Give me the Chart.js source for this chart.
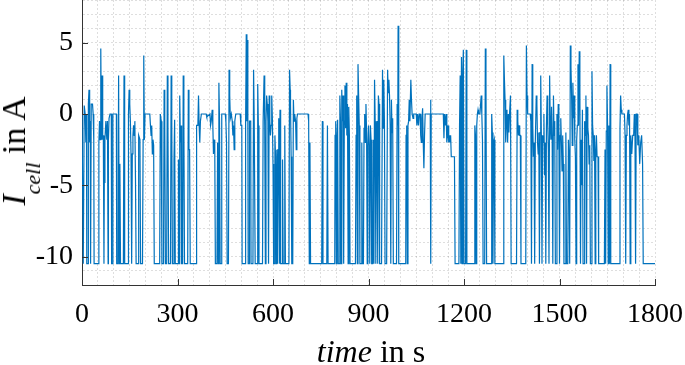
<!DOCTYPE html>
<html>
<head>
<meta charset="utf-8">
<script src="https://cdn.jsdelivr.net/npm/chart.js@4.4.0/dist/chart.umd.min.js"></script>
<style>
html, body { margin: 0; padding: 0; background: #fff; }
#wrap { position: relative; width: 685px; height: 365px; overflow: hidden; }
#wrap canvas { position: absolute; left: 0; top: 0; }
.ttl { position: absolute; font-family: "Liberation Serif", "Times New Roman", serif; font-size: 32px; line-height: 32px; height: 32px; color: #000; white-space: nowrap; }
#xTitle { left: 371px; top: 335px; transform: translateX(-50%); }
#yTitle { left: 14px; top: 151px; font-size: 34px; line-height: 34px; height: 34px; transform: translate(-50%, -50%) rotate(-90deg); }
#yTitle sub { font-size: 22px; vertical-align: -15px; line-height: 0; }
</style>
</head>
<body>
<div id="wrap">
  <canvas id="myChart" width="685" height="365"></canvas>
  <div class="ttl" id="xTitle"><i>time</i> in s</div>
  <div class="ttl" id="yTitle"><i>I</i><sub><i>cell</i></sub> in A</div>
</div>
<script>
// time stamps in s (one vertex per change)
const timeS = [
  // 0 - 300
  0,3,4,6,7,10,12,14,15,19,
  20,22,24,26,27,29,33,35,37,38,
  52,53,55,57,59,61,63,65,67,69,
  70,72,75,78,80,82,83,85,88,92,
  93,96,97,108,109,113,115,117,119,121,
  130,132,134,145,146,148,150,152,154,156,
  158,160,162,164,166,168,170,176,177,179,
  182,184,190,192,194,196,198,213,215,217,
  219,221,223,225,227,244,246,249,251,256,
  258,260,262,266,268,270,272,278,280,282,
  284,287,289,291,293,298,
  // 300 - 600
  300,302,303,305,307,309,311,313,316,318,
  320,322,332,334,336,338,340,359,360,364,
  366,368,370,372,375,390,392,402,404,406,
  409,411,413,415,417,419,424,426,428,430,
  432,434,437,439,450,452,454,456,460,462,
  464,466,469,472,474,476,478,480,483,497,
  499,502,503,513,514,516,518,519,521,522,
  525,526,530,531,537,539,541,543,544,550,
  552,554,556,567,569,572,574,576,578,580,
  582,584,586,588,590,592,594,596,598,
  // 600 - 900
  600,602,604,606,608,610,612,614,616,618,
  620,622,624,629,630,632,636,637,639,650,
  652,654,655,657,659,662,664,666,668,671,
  673,675,677,710,712,714,716,718,753,755,
  757,769,771,773,794,795,797,799,801,803,
  805,808,810,812,814,816,818,820,822,824,
  826,828,830,832,834,836,838,840,842,859,
  861,863,865,867,869,871,873,877,879,881,
  884,886,888,890,892,894,896,898,
  // 900 - 1200
  900,902,904,906,908,910,913,915,917,919,
  921,923,925,927,929,931,933,935,941,944,
  946,948,950,952,957,960,962,964,966,968,
  970,972,974,976,978,988,990,992,993,995,
  1017,1018,1020,1022,1024,1026,1028,1030,1033,1035,
  1037,1040,1042,1050,1052,1054,1057,1059,1062,1064,
  1066,1068,1070,1072,1074,1076,1078,1094,1095,1096,
  1097,1135,1137,1139,1142,1144,1146,1148,1150,1152,
  1154,1156,1158,1160,1170,1172,1184,1186,1188,1190,
  1192,1194,1196,1198,
  // 1200 - 1500
  1200,1202,1205,1207,1209,1233,1234,1236,1238,1240,
  1242,1244,1246,1250,1254,1256,1258,1260,1265,1267,
  1269,1271,1285,1287,1289,1291,1293,1295,1297,1323,
  1325,1327,1329,1331,1333,1335,1337,1339,1341,1343,
  1346,1348,1365,1367,1369,1371,1373,1375,1377,1379,
  1394,1396,1398,1400,1408,1410,1412,1414,1416,1418,
  1420,1422,1424,1427,1429,1431,1433,1435,1437,1439,
  1441,1443,1445,1447,1449,1451,1453,1455,1457,1459,
  1461,1463,1465,1467,1469,1471,1473,1475,1477,1479,
  1481,1483,1485,1487,1490,1492,1494,1496,1498,
  // 1500 - 1800
  1500,1502,1504,1506,1508,1510,1512,1514,1518,1520,
  1522,1526,1528,1530,1532,1534,1536,1538,1540,1542,
  1544,1546,1548,1550,1552,1554,1556,1558,1560,1562,
  1564,1566,1568,1570,1572,1574,1577,1579,1581,1583,
  1585,1587,1589,1591,1593,1595,1597,1600,1602,1604,
  1606,1608,1610,1612,1614,1616,1618,1621,1623,1641,
  1643,1645,1647,1649,1651,1653,1655,1657,1659,1661,
  1688,1690,1692,1694,1696,1704,1706,1708,1710,1712,
  1714,1716,1718,1720,1722,1724,1727,1730,1733,1735,
  1737,1739,1741,1744,1746,1749,1752,1755,1758,1761,
  1763,1800
];

// cell current in A at those time stamps
const currentA = [
  // 0 - 300
  0,0,-10.5,-10.5,0.6,0,-2,0,-10.5,-10.5,
  0.7,1.7,-2,-0.5,-10.5,0.7,0.7,0,-1.8,-10.5,
  -10.5,-2,-0.5,-1.8,4.6,-1.8,2.7,-1.8,-1.5,-10.5,
  -4.8,-1.8,-0.5,-1.8,-0.5,-10.5,-1.8,-0.3,0,0,
  -10.5,-10.5,0,0,-10.5,-10.5,2.7,-10.5,-3.5,-10.5,
  -10.5,2.7,-10.5,-10.5,0,1.7,0.7,-0.5,-2.8,-10.5,
  -2.8,-1.5,-0.8,-1.5,-0.5,-4.5,-10.5,-10.5,-4.5,-1.5,
  -1.8,-10.5,-10.5,-1.8,4.1,-1.8,0,0,-0.8,-1.5,
  -0.8,-2.8,-1.8,-2.2,-10.5,-10.5,0,-0.5,-10.5,-10.5,
  1.7,-0.8,-10.5,-10.5,2.7,-0.8,-10.5,-10.5,2.7,-0.5,
  -10.5,-10.5,-3.2,-0.4,-10.5,-10.5,
  // 300 - 600
  -10.5,-10.5,-3.2,-10.5,1.3,-2,-0.8,-10.5,-10.5,2.7,
  -0.5,-10.5,-10.5,1.7,-2.5,-2.5,-10.5,-10.5,-0.8,-0.8,
  1.3,-0.8,-2,-0.5,0,0,-0.2,0,-0.8,-0.5,
  0.3,-0.8,-2.8,-1.8,-2.2,-10.5,-10.5,-2,-10.5,2.2,
  -0.5,-10.5,-10.5,0,0,-0.5,-2,-10.5,-10.5,3.1,
  1.3,-0.3,0,-0.5,-1.5,-0.8,-2.5,-0.5,0,0,
  -0.8,-0.8,-10.5,-10.5,-0.5,5.6,-0.5,5.2,-0.5,-10.5,
  -10.5,-0.5,-0.5,-10.5,-10.5,3.1,-0.5,-0.5,-10.5,-10.5,
  2.1,-0.8,-10.5,-10.5,-0.5,2.7,-0.8,-10.5,-0.5,1.3,
  0.7,-0.5,-10.5,1.3,-0.5,-1.5,-0.8,1.3,-0.3,
  // 600 - 900
  -3.5,-10.5,-10.5,-1.5,-3,-10.5,-2.5,-10.5,-2.5,-0.3,
  -10.5,0.3,-10.5,-10.5,-3.2,-10.5,-10.5,-0.8,-10.5,-10.5,
  3.1,1.7,0.7,-3,-10.5,-10.5,1.0,-0.5,0,-0.5,
  -2.5,-0.3,0,0,-0.5,-10.5,-2,-10.5,-10.5,-0.5,
  -10.5,-10.5,-0.8,-10.5,-10.5,-1.5,-0.5,-10.5,-1.5,-0.4,
  -10.5,-10.5,1.3,-0.5,-10.5,1.7,-0.5,1.3,-10.5,-0.5,
  2.0,-1.0,2.2,-1.5,0.7,-10.5,0.5,-1.5,-10.5,-10.5,
  -1.5,1.3,-10.5,3.5,1.3,-0.8,-10.5,-10.5,-2,-10.5,
  -10.5,-1,0,-2,0.7,-1.3,-10.5,-2.2,
  // 900 - 1200
  -0.8,-2.2,-10.5,-0.8,-1.8,-10.5,-10.5,-1.8,-10.5,2.4,
  -0.5,-10.5,-1.8,-0.5,-10.5,1.3,0.7,-10.5,-10.5,3.1,
  -1.0,2.4,-0.5,-10.5,-10.5,3.1,1.5,2.4,1.3,-0.8,
  -10.5,1.0,-1.3,-0.3,-10.5,-10.5,0.7,-0.8,6.2,-10.5,
  -10.5,-1.5,-0.8,-10.5,-0.8,-0.5,1.0,-0.5,2.4,1.0,
  0,-0.3,0,0,-0.8,0,-0.8,0,0,-1.5,
  -2,-0.3,0.4,-2,-3.8,-1.5,0,0,1.0,-10.5,
  0,0,-1.7,0,-0.8,0,-2,-1.5,-0.8,-2,
  -1.5,-2,-1.5,-3,-3,-10.5,-10.5,-0.8,2.7,-10.5,
  4.0,-10.5,3.0,4.5,
  // 1200 - 1500
  -10.5,-10.5,-10.5,4.5,-10.5,-10.5,-0.8,-1.5,-10.5,-0.8,
  0,0.3,0,0,1.3,0,-1.8,-10.5,-10.5,4.6,
  2.4,-10.5,-10.5,0,-1.3,-10.5,-2,-1.8,-10.5,-10.5,
  4.1,2.4,1.0,-2,0.3,-0.5,-2,0,-1.3,0,
  1.3,-10.5,-10.5,0.3,-0.5,-1.5,-0.8,-1.5,-1.5,-10.5,
  -10.5,4.8,1.3,0,0,-0.5,-10.5,3.5,-0.8,-3,
  -2,-10.5,-2,1.3,0.7,-2,-2.8,-1.3,-10.5,-1.3,
  2.7,-1.5,-10.5,-1.5,-2,0,-4.3,-2,-10.5,-0.8,
  1.3,-0.8,-2.5,-10.5,2.7,-0.8,-1.8,0.5,-1.8,-10.5,
  1.3,-1.5,-0.5,-10.5,-10.5,0,-2.5,0.7,-0.8,
  // 1500 - 1800
  -10.5,-1.5,-0.3,-2,-4,-1.5,-3.5,-10.5,-10.5,-1.3,
  -10.5,-10.5,-1.8,-3,-10.5,4.8,3.3,1.3,-2.2,2.2,
  -0.3,1.3,-1.8,-3,-10.5,-1.8,-0.8,3.5,-0.8,4.4,
  2.0,-10.5,-1.8,-5,0.3,-10.5,-10.5,-0.5,-1.5,1.3,
  -10.5,0.5,-1.0,-1.5,-3.5,-2.2,-10.5,-10.5,3.0,-0.8,
  -1.5,-3.3,-1.5,-10.5,-2.5,-1.5,-3,-3,-10.5,-10.5,
  -2.5,-10.5,-1.2,2.0,-0.8,-10.5,-0.8,-10.5,3.5,-10.5,
  -10.5,-1.0,1.3,0.3,0,0,-1.5,-10.5,-1.5,-0.8,
  0,0.3,-0.8,0,-10.5,-1.5,-2.8,-1.5,-1.5,0,
  -0.8,-10.5,0,0,-2.2,-1.5,-3.5,-2,-1.5,-3.5,
  -10.5,-10.5
];

const xTickLabels = [0, 300, 600, 900, 1200, 1500, 1800];
const yTickLabels = [-10, -5, 0, 5];

const lineColor = '#0072BD';
const axisColor = '#333333';
const gridColor = 'rgba(0,0,0,0.13)';

Chart.defaults.font.family = '"Liberation Serif", "Times New Roman", serif';
Chart.defaults.color = '#000';

// MATLAB style ticks pointing into the axes
const innerTicks = {
  id: 'innerTicks',
  afterDraw(chart) {
    const {ctx, chartArea, scales} = chart;
    ctx.save();
    ctx.strokeStyle = axisColor;
    ctx.lineWidth = 1;
    ctx.beginPath();
    xTickLabels.forEach(v => {
      const px = Math.round(scales.x.getPixelForValue(v)) + 0.5;
      ctx.moveTo(px, chartArea.bottom);
      ctx.lineTo(px, chartArea.bottom - 6);
    });
    yTickLabels.forEach(v => {
      const py = Math.round(scales.y.getPixelForValue(v)) + 0.5;
      ctx.moveTo(chartArea.left, py);
      ctx.lineTo(chartArea.left + 6, py);
    });
    ctx.stroke();
    ctx.restore();
  }
};

const ctx = document.getElementById('myChart');

let myChart = new Chart(ctx, {
  type: 'line',
  data: {
    datasets: [{
      data: timeS.map((t, i) => ({x: t, y: currentA[i]})),
      borderColor: lineColor,
      borderWidth: 1.2,
      pointRadius: 0,
      tension: 0,
      fill: false
    }]
  },
  options: {
    responsive: false,
    animation: false,
    devicePixelRatio: 1,
    layout: { padding: { left: 0, right: 30, top: 0, bottom: 0 } },
    plugins: { legend: { display: false }, tooltip: { enabled: false } },
    scales: {
      x: {
        type: 'linear',
        min: 0,
        max: 1800,
        afterFit: s => { s.height = 80; s.paddingLeft = 0; s.paddingRight = 0; },
        grid: { color: gridColor, drawTicks: false, lineWidth: 1 },
        border: { display: true, color: axisColor, width: 1, dash: [2, 2] },
        ticks: {
          stepSize: 50,
          autoSkip: false,
          maxRotation: 0,
          padding: 13,
          font: { size: 28 },
          callback: v => xTickLabels.includes(v) ? String(v) : ''
        }
      },
      y: {
        min: -12,
        max: 8,
        afterFit: s => { s.width = 82; s.paddingTop = 0; s.paddingBottom = 0; },
        grid: { color: gridColor, drawTicks: false, lineWidth: 1 },
        border: { display: true, color: axisColor, width: 1, dash: [2, 2] },
        ticks: {
          stepSize: 1,
          autoSkip: false,
          padding: 9,
          font: { size: 28 },
          callback: v => yTickLabels.includes(v) ? String(v) : ''
        }
      }
    }
  },
  plugins: [innerTicks]
});
</script>
</body>
</html>
